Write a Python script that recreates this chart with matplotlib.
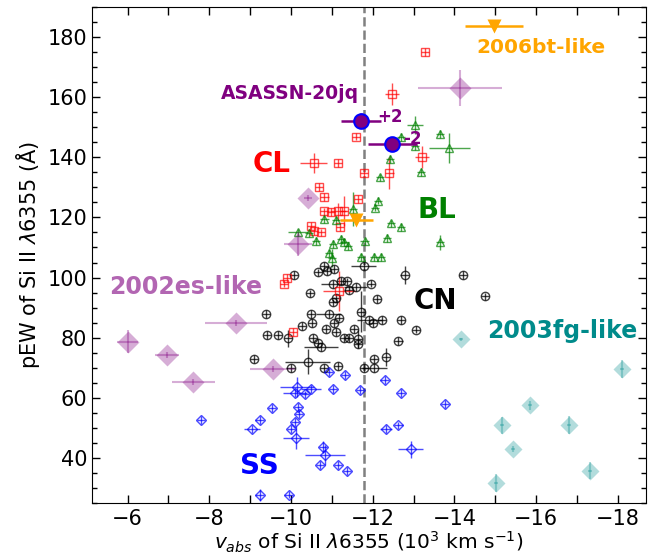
import matplotlib
matplotlib.use("Agg")
import matplotlib.pyplot as plt
from matplotlib.ticker import MultipleLocator

# ---------------- data: v_abs (1e3 km/s), pEW (A) and their uncertainties ----------------
# Core-normal (CN)
cn_v = [-10.08, -10.82, -10.67, -10.87, -11.06, -11.78, -12.78, -11.02, -11.23, -11.37,
        -11.41, -11.58, -11.96, -10.47, -11.10, -11.02, -12.11, -11.72, -10.92, -10.50,
        -10.51, -9.39, -11.17, -11.92, -12.00, -12.23, -12.70, -13.07, -10.27, -10.86,
        -11.05, -11.10, -11.55, -9.41, -9.69, -9.92, -10.53, -11.31, -11.64, -11.64,
        -10.67, -10.74, -12.63, -12.03, -12.33, -10.41, -9.99, -11.16, -9.09, -10.80,
        -11.78, -12.04, -14.21, -14.74, -11.43]
cn_pew = [100.9, 103.9, 101.7, 102.2, 102.8, 103.9, 100.9, 97.8, 98.9, 98.7,
          95.8, 96.9, 98.0, 94.7, 93.1, 91.7, 92.8, 88.7, 87.8, 88.0,
          85.0, 87.8, 86.7, 85.8, 85.0, 85.8, 85.8, 82.7, 83.9, 82.8,
          85.0, 81.9, 82.8, 80.9, 80.9, 79.8, 79.8, 79.8, 79.5, 77.8,
          78.3, 76.9, 78.9, 72.8, 73.6, 72.0, 70.0, 70.6, 72.8, 69.8,
          69.8, 69.8, 100.8, 93.7, 80.0]
cn_verr = [0.1, 0.1, 0.1, 0.1, 0.1, 0.31, 0.1, 0.29, 0.1, 0.1,
           0.1, 0.27, 0.1, 0.1, 0.1, 0.1, 0.1, 0.1, 0.3, 0.1,
           0.1, 0.1, 0.1, 0.3, 0.1, 0.1, 0.1, 0.1, 0.1, 0.1,
           0.1, 0.1, 0.1, 0.1, 0.1, 0.1, 0.1, 0.1, 0.1, 0.1,
           0.1, 0.41, 0.1, 0.1, 0.1, 0.55, 0.1, 0.1, 0.1, 0.1,
           0.1, 0.3, 0.1, 0.1, 0.1]
cn_pewerr = [1.3, 1.3, 1.3, 1.3, 1.3, 1.3, 3.0, 1.3, 1.3, 1.3,
             1.3, 1.3, 1.3, 1.3, 1.3, 1.3, 1.3, 6.7, 1.3, 1.3,
             1.3, 1.3, 1.3, 1.3, 1.3, 1.3, 1.3, 1.3, 1.3, 1.3,
             1.3, 1.3, 1.3, 1.3, 1.3, 2.8, 1.3, 1.3, 3.0, 1.3,
             1.3, 1.3, 1.3, 1.3, 3.0, 4.2, 1.3, 1.3, 1.3, 1.3,
             1.3, 1.3, 1.3, 1.3, 1.3]

# Cool (CL)
cl_v = [-13.29, -12.47, -11.59, -10.56, -11.15, -13.21, -11.78, -12.41, -10.68, -10.82,
        -11.64, -10.82, -10.98, -11.15, -11.29, -10.49, -10.57, -10.74, -11.21, -9.90,
        -9.82, -11.17, -10.04]
cl_pew = [175.0, 161.1, 146.9, 138.0, 138.1, 140.0, 134.8, 134.8, 130.0, 126.9,
          126.1, 122.0, 121.7, 122.0, 122.2, 117.2, 115.6, 115.0, 116.9, 99.8,
          98.0, 95.6, 81.9]
cl_verr = [0.1, 0.18, 0.1, 0.33, 0.1, 0.18, 0.1, 0.1, 0.1, 0.1,
           0.1, 0.1, 0.1, 0.2, 0.1, 0.1, 0.1, 0.1, 0.1, 0.1,
           0.1, 0.39, 0.1]
cl_pewerr = [1.3, 3.7, 1.3, 3.3, 1.3, 3.6, 1.3, 5.3, 1.3, 1.3,
             1.3, 1.3, 1.3, 2.9, 5.0, 1.3, 1.3, 1.3, 1.3, 1.3,
             1.3, 6.7, 1.3]

# Broad-line (BL)
bl_v = [-13.03, -12.70, -13.03, -13.65, -12.43, -13.88, -13.19, -12.17, -12.13, -12.06,
        -12.45, -12.70, -12.36, -13.64, -11.51, -10.82, -11.10, -10.17, -10.45, -10.62,
        -11.23, -11.31, -11.39, -11.02, -11.80, -10.93, -11.72, -12.04, -12.21, -11.00]
bl_pew = [150.6, 146.7, 143.6, 147.8, 139.5, 143.0, 135.0, 133.3, 125.6, 123.3,
          118.0, 116.7, 113.1, 111.7, 122.8, 119.5, 119.1, 115.0, 114.7, 112.2,
          112.8, 111.7, 110.6, 111.1, 112.0, 108.3, 106.7, 106.7, 106.7, 106.5]
bl_verr = [0.2, 0.1, 0.1, 0.1, 0.1, 0.5, 0.1, 0.1, 0.1, 0.1,
           0.1, 0.1, 0.1, 0.1, 0.1, 0.1, 0.1, 0.24, 0.1, 0.1,
           0.1, 0.1, 0.1, 0.1, 0.1, 0.1, 0.1, 0.1, 0.1, 0.1]
bl_pewerr = [3.0, 1.3, 1.3, 1.3, 1.3, 5.0, 1.3, 1.3, 1.3, 1.3,
             1.3, 1.3, 1.3, 2.5, 5.7, 1.3, 1.3, 1.3, 1.3, 1.3,
             1.3, 1.3, 1.3, 1.3, 1.3, 1.3, 1.3, 1.3, 1.3, 3.0]

# Shallow-silicon (SS)
ss_v = [-10.94, -11.33, -12.29, -12.70, -10.15, -10.10, -10.35, -10.49, -11.02, -11.68,
        -9.54, -10.18, -10.20, -9.23, -9.04, -10.10, -10.00, -10.12, -10.78, -10.84,
        -10.72, -11.15, -11.38, -12.33, -12.63, -12.93, -9.23, -9.94, -7.80, -13.78]
ss_pew = [68.7, 67.6, 65.8, 61.7, 63.6, 61.7, 61.1, 62.8, 62.8, 62.6,
          56.7, 57.0, 54.7, 52.5, 49.7, 52.0, 49.7, 46.7, 43.6, 40.9,
          37.6, 37.6, 35.6, 49.7, 50.8, 42.8, 27.8, 27.8, 52.5, 57.8]
ss_verr = [0.1, 0.1, 0.1, 0.1, 0.41, 0.3, 0.1, 0.25, 0.1, 0.1,
           0.1, 0.1, 0.1, 0.1, 0.2, 0.1, 0.1, 0.31, 0.1, 0.49,
           0.1, 0.1, 0.1, 0.15, 0.1, 0.31, 0.1, 0.1, 0.1, 0.1]
ss_pewerr = [1.3, 1.3, 1.3, 1.3, 3.3, 1.3, 1.3, 1.3, 1.3, 1.3,
             1.3, 1.3, 1.3, 1.3, 1.3, 1.3, 1.3, 3.9, 2.0, 3.3,
             1.3, 1.3, 1.3, 1.3, 1.3, 2.8, 2.0, 1.3, 1.3, 1.3]

# 2002es-like
es02_v = [-6.00, -6.97, -7.61, -8.65, -9.55, -10.41, -10.17, -14.14]
es02_pew = [78.7, 74.2, 65.3, 84.9, 69.7, 126.5, 111.1, 163.0]
es02_verr = [0.26, 0.30, 0.53, 0.76, 0.55, 0.10, 0.35, 1.02]
es02_pewerr = [3.8, 1.0, 1.0, 1.0, 1.0, 1.0, 4.0, 6.0]

# 2003fg-like
fg03_v = [-14.17, -18.11, -15.84, -15.17, -16.81, -15.44, -17.32, -15.01]
fg03_pew = [79.5, 69.7, 57.5, 50.8, 51.1, 42.8, 35.8, 31.7]
fg03_verr = [0.05, 0.05, 0.05, 0.05, 0.05, 0.05, 0.05, 0.05]
fg03_pewerr = [0.5, 3.0, 1.5, 2.7, 3.0, 1.0, 2.7, 3.0]

# 2006bt-like
bt06_v = [-14.96, -11.60]
bt06_pew = [183.6, 119.1]
bt06_verr = [0.71, 0.41]
bt06_pewerr = [0.0, 0.0]

# ASASSN-20jq at two epochs
jq_v = [-11.72, -12.48]
jq_pew = [152.1, 144.5]
jq_verr = [0.49, 0.60]
jq_pewerr = [2.5, 2.0]
jq_epochs = ["+2", "-2"]

v_boundary = -11.78  # separation between normal and high-velocity groups

# ---------------- figure ----------------
fig = plt.figure(figsize=(6.66, 5.6), dpi=100)
ax = fig.add_axes([92 / 666, 57 / 560, 554 / 666, 496 / 560])


def group(v, pew, verr, pewerr, color, marker, ms, filled=False, alpha=0.7, z=3, elw=1.0):
    ax.errorbar(v, pew, xerr=verr, yerr=pewerr, ls="none", marker=marker, ms=ms,
                mfc=color if filled else "none", mec="none" if filled else color,
                mew=1.0, ecolor=color, elinewidth=elw, capsize=0, alpha=alpha, zorder=z)


group(cn_v, cn_pew, cn_verr, cn_pewerr, "black", "o", 6, alpha=0.75)
group(cl_v, cl_pew, cl_verr, cl_pewerr, "red", "s", 5.2)
group(bl_v, bl_pew, bl_verr, bl_pewerr, "green", "^", 6)
group(ss_v, ss_pew, ss_verr, ss_pewerr, "blue", "D", 4.8)
group(es02_v, es02_pew, es02_verr, es02_pewerr, "purple", "D", 10.8, filled=True, alpha=0.32, elw=1.5)
group(fg03_v, fg03_pew, fg03_verr, fg03_pewerr, "darkcyan", "D", 9.2, filled=True, alpha=0.3, elw=1.5)
group(bt06_v, bt06_pew, bt06_verr, bt06_pewerr, "orange", "v", 9.5, filled=True, alpha=1.0, z=4, elw=1.8)

ax.errorbar(jq_v, jq_pew, xerr=jq_verr, yerr=jq_pewerr, ls="none", marker="o", ms=10.5,
            mfc="purple", mec="blue", mew=1.5, ecolor="purple", elinewidth=1.8,
            capsize=0, zorder=6)
ax.text(-12.11, 151.9, jq_epochs[0], color="purple", fontsize=12, fontweight="bold",
        ha="left", va="baseline", zorder=7)
ax.text(-12.75, 144.5, jq_epochs[1], color="purple", fontsize=12, fontweight="bold",
        ha="left", va="baseline", zorder=7)

ax.axvline(v_boundary, color="gray", ls="--", lw=1.8, zorder=2)

# group labels
ax.text(-9.52, 135.0, "CL", color="red", fontsize=20, fontweight="bold", ha="center", va="baseline")
ax.text(-13.56, 119.8, "BL", color="green", fontsize=20, fontweight="bold", ha="center", va="baseline")
ax.text(-13.53, 89.5, "CN", color="black", fontsize=20, fontweight="bold", ha="center", va="baseline")
ax.text(-9.23, 34.5, "SS", color="blue", fontsize=20, fontweight="bold", ha="center", va="baseline")
ax.text(-7.42, 94.5, "2002es-like", color="purple", alpha=0.6, fontsize=17, fontweight="bold",
        ha="center", va="baseline")
ax.text(-16.64, 80.0, "2003fg-like", color="darkcyan", fontsize=17, fontweight="bold",
        ha="center", va="baseline")
ax.text(-16.13, 174.8, "2006bt-like", color="orange", fontsize=14.5, fontweight="bold",
        ha="center", va="baseline")
ax.text(-11.67, 159.5, "ASASSN-20jq", color="purple", fontsize=13.5, fontweight="bold",
        ha="right", va="baseline")

# axes
ax.set_xlim(-5.13, -18.69)
ax.set_ylim(25, 190)
ax.xaxis.set_major_locator(MultipleLocator(2))
ax.xaxis.set_minor_locator(MultipleLocator(1))
ax.yaxis.set_major_locator(MultipleLocator(20))
ax.yaxis.set_minor_locator(MultipleLocator(5))
ax.tick_params(axis="x", which="both", direction="in", top=True, bottom=True,
               length=6, width=1, labelsize=15, pad=4)
ax.tick_params(axis="y", which="major", direction="in", left=True, right=True,
               length=6, width=1, labelsize=15)
ax.tick_params(axis="y", which="minor", direction="in", left=True, right=True,
               length=3.6, width=1)

ax.set_xlabel(r"$v_{abs}$ of Si II $\lambda$6355 (10$^3$ km s$^{-1}$)", fontsize=14.5,
              labelpad=1)
ax.set_ylabel(r"pEW of Si II $\lambda$6355 (Å)", fontsize=15)

fig.savefig("out.png", dpi=100)
